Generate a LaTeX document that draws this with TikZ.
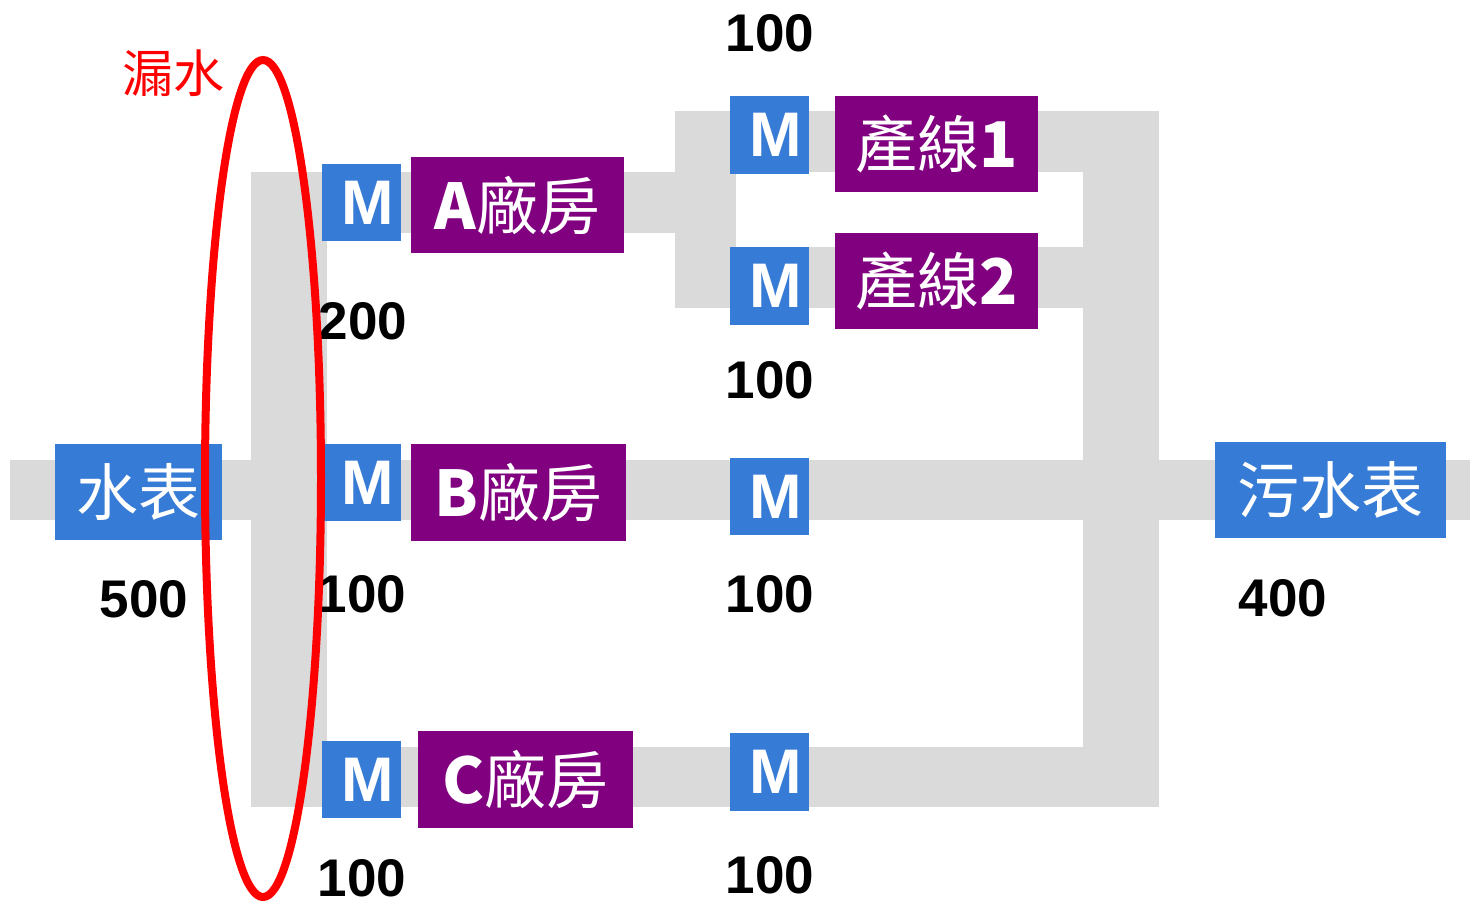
\documentclass[tikz,border=0pt]{standalone}
\usepackage{fontspec}
\setmainfont{Liberation Sans}
\newfontfamily\cjk{Noto Sans CJK TC}
\definecolor{pipegray}{HTML}{DADADA}
\definecolor{mblue}{HTML}{367BD5}
\definecolor{fpurple}{HTML}{800080}
\newcommand\latbold[1]{{\fontsize{63}{63}\selectfont\bfseries #1}}
\tikzset{
  pipe/.style={fill=pipegray},
  mbox/.style={fill=mblue, text=white, minimum width=79pt, minimum height=77pt, inner sep=0pt,
    font=\fontsize{63}{63}\selectfont\bfseries},
  fbox/.style={fill=fpurple, text=white, minimum height=96pt, inner sep=0pt,
    font=\cjk\fontsize{62}{62}\selectfont},
  meter/.style={fill=mblue, text=white, minimum height=96pt, inner sep=0pt,
    font=\cjk\fontsize{62}{62}\selectfont},
  num/.style={inner sep=0pt, font=\fontsize{53}{53}\selectfont\bfseries},
  leak/.style={draw=red, line width=8pt},
}
\begin{document}
\begin{tikzpicture}[x=1pt, y=-1pt]
\useasboundingbox (0,0) rectangle (1470,903);

% pipes
\fill[pipe] (10,459.5) rectangle (1470,519.5);
\fill[pipe] (251,172) rectangle (327,807);
\fill[pipe] (251,172) rectangle (736,233);
\fill[pipe] (675,111) rectangle (736,307.5);
\fill[pipe] (675,111) rectangle (1159,172);
\fill[pipe] (675,247) rectangle (1083,307.5);
\fill[pipe] (1083,111) rectangle (1159,807);
\fill[pipe] (251,747) rectangle (1159,807);

% meters
\node[meter, minimum width=167pt] (wm) at (138.5,492) {水表};
\node[meter, minimum width=231pt] (sm) at (1330.5,490) {污水表};

% left column M boxes and factories
\node[mbox] (ma) at (361.5,202.5) {\hspace*{12pt}M};
\node[fbox, minimum width=213pt] (fa) at (517.5,205) {\latbold{A}廠房};
\node[mbox] (mb) at (361.5,482.5) {\hspace*{12pt}M};
\node[fbox, minimum width=215pt, minimum height=97pt] (fb) at (518.5,492.5) {\latbold{B}廠房};
\node[mbox] (mc) at (361.5,779.5) {\hspace*{12pt}M};
\node[fbox, minimum width=215pt, minimum height=97pt] (fc) at (525.5,779.5) {\latbold{C}廠房};

% right column
\node[mbox, minimum height=78pt] (m1) at (769.5,135) {\hspace*{12pt}M};
\node[fbox, minimum width=203pt] (l1) at (936.5,144) {產線\latbold{1}};
\node[mbox, minimum height=78pt] (m2) at (769.5,286) {\hspace*{12pt}M};
\node[fbox, minimum width=203pt] (l2) at (936.5,281) {產線\latbold{2}};
\node[mbox] (mm) at (769.5,496.5) {\hspace*{12pt}M};
\node[mbox, minimum height=78pt] (mc2) at (769.5,772) {\hspace*{12pt}M};

% numbers
\node[num] (n1) at (770,33) {100};
\node[num] (n2) at (770,380) {100};
\node[num] (n3) at (363,321) {200};
\node[num] (n4) at (362,594) {100};
\node[num] (n5) at (770,594) {100};
\node[num] (n6) at (362,878) {100};
\node[num] (n7) at (770,875) {100};
\node[num] (n8) at (144,599) {500};
\node[num] (n9) at (1283,598) {400};

% leak
\node[inner sep=0pt, text=red, font=\cjk\fontsize{51}{51}\selectfont] (lk) at (173,73) {漏水};
\draw[leak] (263,478.5) ellipse [x radius=58, y radius=418.5];
\end{tikzpicture}
\end{document}
